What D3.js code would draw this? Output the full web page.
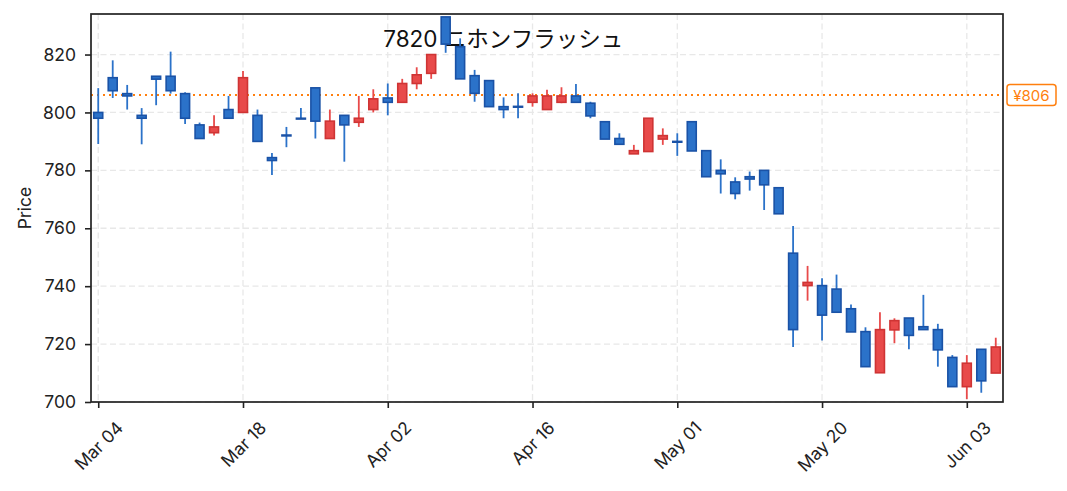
<!DOCTYPE html>
<html>
<head>
<meta charset="utf-8">
<script src="https://cdn.jsdelivr.net/npm/d3@7"></script>
<style>
  body { margin: 0; background: #fff; }
  text { font-family: Inter, "Noto Sans CJK JP", sans-serif; }
</style>
</head>
<body>
<svg id="chart" width="1067" height="491"></svg>
<script>
// trading days (one day missing in mid May)
var dates = [
  "2024-03-04","2024-03-05","2024-03-06","2024-03-07","2024-03-08","2024-03-11","2024-03-12","2024-03-13","2024-03-14","2024-03-15",
  "2024-03-18","2024-03-19","2024-03-21","2024-03-22","2024-03-25","2024-03-26","2024-03-27","2024-03-28","2024-03-29","2024-04-01",
  "2024-04-02","2024-04-03","2024-04-04","2024-04-05","2024-04-08","2024-04-09","2024-04-10","2024-04-11","2024-04-12","2024-04-15",
  "2024-04-16","2024-04-17","2024-04-18","2024-04-19","2024-04-22","2024-04-23","2024-04-24","2024-04-25","2024-04-26","2024-04-30",
  "2024-05-01","2024-05-02","2024-05-07","2024-05-08","2024-05-09","2024-05-10","2024-05-13","2024-05-14","2024-05-15","2024-05-16",
  "2024-05-20","2024-05-21","2024-05-22","2024-05-23","2024-05-24","2024-05-27","2024-05-28","2024-05-29","2024-05-30","2024-05-31",
  "2024-06-03","2024-06-04","2024-06-05"
];
var opens = [
  800, 812, 806.5, 799, 812.5, 812.5, 806.5, 795.7, 793, 801,
  800, 799, 784.4, 792.2, 798, 808.5, 791, 799, 796.6, 801,
  805, 803.5, 810, 813.5, 833, 822.7, 812.7, 811, 802, 802.1,
  803.5, 801, 803.5, 805.7, 803.2, 796.8, 791, 785.7, 786.5, 790.8,
  790, 796.8, 786.8, 780, 776, 777.8, 780, 774, 751.4, 740.2,
  740.2, 739, 732.2, 724.3, 710.1, 724.9, 729, 726, 725, 715.4,
  705.3, 718.2, 710
];
var highs = [
  808.4, 818, 809.5, 801.5, 812.5, 821, 807, 796.5, 799, 805.7,
  814.3, 801, 786, 795, 801.5, 808.5, 801, 799, 805.7, 808,
  810, 811.6, 815.6, 820, 833, 825.6, 814.7, 811, 805.2, 806.6,
  806.6, 807.8, 808.7, 809.8, 803.7, 796.8, 792.8, 788.8, 798, 794.5,
  792.8, 796.8, 786.8, 783.8, 777.6, 779.6, 780, 774, 760.8, 747,
  742.7, 744, 733.7, 725.8, 731, 728.9, 729, 737, 727, 716.2,
  716.2, 718.2, 722.2
];
var lows = [
  789.1, 805, 801, 789, 802.5, 806.5, 796, 791, 792, 798,
  800, 790, 778.4, 788, 797.8, 791, 791, 783, 795, 800,
  799, 803.5, 808, 811.6, 820.6, 811.6, 803.7, 802, 798, 798,
  802, 801, 803.2, 803.5, 798, 790.8, 788.8, 785.7, 786.5, 788.8,
  785, 786.7, 777.8, 772, 770, 773, 766.3, 765, 719, 735,
  721.2, 731, 724.2, 712.2, 710.1, 720.3, 718.2, 725, 712.2, 705.3,
  701, 703.2, 710
];
var closes = [
  798, 807.5, 805.7, 798, 811.5, 807.5, 798, 791, 795, 798,
  812, 790, 783.4, 791.9, 797.8, 797, 797, 795.7, 798, 804.7,
  803.5, 810, 813, 820, 823.6, 811.6, 806.6, 802, 801, 801.9,
  805.7, 805.7, 805.7, 803.5, 798.8, 790.8, 789, 786.8, 798, 792,
  789.8, 786.7, 777.8, 778.8, 772, 777, 775, 765, 725, 741.3,
  730, 731, 724.2, 712.2, 725, 728.1, 723, 725, 718, 705.3,
  713.4, 707.3, 719
];
var yTicks = [700, 720, 740, 760, 780, 800, 820];
var refPrice = 806;
var title = "7820 ニホンフラッシュ";

var svg = d3.select("#chart"),
    margin = { top: 14, right: 64, bottom: 89, left: 91 },
    width = +svg.attr("width") - margin.left - margin.right,
    height = +svg.attr("height") - margin.top - margin.bottom,
    g = svg.append("g").attr("transform", "translate(" + margin.left + "," + margin.top + ")");

var n = dates.length;
var parseDate = d3.timeParse("%Y-%m-%d");
var fmt = d3.timeFormat("%b %d");

var x = d3.scaleLinear().domain([-0.5, n - 0.5]).range([0, width]);
var y = d3.scaleLinear().domain([700, 834]).range([height, 0]);
var step = x(1) - x(0);
var bodyW = step * 0.62;

var upFill = "#e84a4a", upEdge = "#cf3434";
var downFill = "#2b72c9", downEdge = "#1a52a6";

// grid
var xTicks = d3.range(0, n, 10);
g.append("g").selectAll("line")
  .data(xTicks).enter().append("line")
  .attr("x1", d => x(d)).attr("x2", d => x(d))
  .attr("y1", 0).attr("y2", height)
  .attr("stroke", "#e8e8e8").attr("stroke-width", 1.3)
  .attr("stroke-dasharray", "6,3.5");
g.append("g").selectAll("line")
  .data(yTicks).enter().append("line")
  .attr("x1", 0).attr("x2", width)
  .attr("y1", d => y(d)).attr("y2", d => y(d))
  .attr("stroke", "#e8e8e8").attr("stroke-width", 1.3)
  .attr("stroke-dasharray", "6,3.5");

// title
g.append("text")
  .attr("x", width * 0.452)
  .attr("y", 32.7)
  .attr("text-anchor", "middle")
  .attr("font-size", 22.5)
  .attr("fill", "#111")
  .text(title);

// reference line
g.append("line")
  .attr("x1", 0).attr("x2", width)
  .attr("y1", y(refPrice)).attr("y2", y(refPrice))
  .attr("stroke", "#ff7f0e").attr("stroke-width", 2)
  .attr("stroke-dasharray", "2,4");

// candles
var candles = d3.range(n).map(function(i) {
  return { i: i, o: opens[i], h: highs[i], l: lows[i], c: closes[i], up: closes[i] >= opens[i] };
});

var cg = g.append("g").selectAll("g")
  .data(candles).enter().append("g");

cg.append("line")
  .attr("x1", d => x(d.i)).attr("x2", d => x(d.i))
  .attr("y1", d => y(d.h)).attr("y2", d => y(d.l))
  .attr("stroke", d => d.up ? upFill : downFill)
  .attr("stroke-width", 1.8);

cg.append("rect")
  .attr("x", d => x(d.i) - bodyW / 2)
  .attr("width", bodyW)
  .attr("y", d => y(Math.max(d.o, d.c)))
  .attr("height", d => Math.max(0.8, Math.abs(y(d.o) - y(d.c))))
  .attr("fill", d => d.up ? upFill : downFill)
  .attr("stroke", d => d.up ? upEdge : downEdge)
  .attr("stroke-width", 1.6);

// axes
var yAxis = g.append("g")
  .call(d3.axisLeft(y).tickValues(yTicks).tickSize(6).tickPadding(9));
var xAxis = g.append("g")
  .attr("transform", "translate(0," + height + ")")
  .call(d3.axisBottom(x).tickValues(xTicks).tickSize(6)
    .tickFormat(function(i) { return fmt(parseDate(dates[i])); }));

[yAxis, xAxis].forEach(function(a) {
  a.select(".domain").remove();
  a.selectAll(".tick line").attr("stroke", "#222").attr("stroke-width", 1.6);
  a.selectAll(".tick text").attr("fill", "#222").attr("font-size", 17.5)
    .style("font-family", "Inter, sans-serif");
});

// rotated date labels, box centred under the tick
var capH = 17.5 * 0.727;
xAxis.selectAll(".tick text")
  .attr("text-anchor", "end")
  .attr("dy", 0)
  .attr("y", 0)
  .attr("transform", function() {
    var L = this.getComputedTextLength();
    var dx = 0.3535 * (L + capH);
    return "translate(" + dx + "," + (18 + 0.707 * capH) + ") rotate(-45)";
  });

// frame
g.append("rect")
  .attr("width", width).attr("height", height)
  .attr("fill", "none").attr("stroke", "#222").attr("stroke-width", 1.7);

// y label
svg.append("text")
  .attr("transform", "translate(31," + (margin.top + height / 2) + ") rotate(-90)")
  .attr("text-anchor", "middle")
  .attr("font-size", 17.5)
  .attr("fill", "#222")
  .text("Price");

// price tag
var tag = svg.append("g")
  .attr("transform", "translate(" + (margin.left + width + 4) + "," + (margin.top + y(refPrice)) + ")");
tag.append("rect")
  .attr("x", 0).attr("y", -10.5)
  .attr("width", 49).attr("height", 21)
  .attr("rx", 3)
  .attr("fill", "#fff").attr("stroke", "#ff7f0e").attr("stroke-width", 1.5);
tag.append("text")
  .attr("x", 24.5).attr("y", 5.5)
  .attr("text-anchor", "middle")
  .attr("font-size", 15)
  .attr("fill", "#ff7f0e")
  .text("¥" + refPrice);
</script>
</body>
</html>
